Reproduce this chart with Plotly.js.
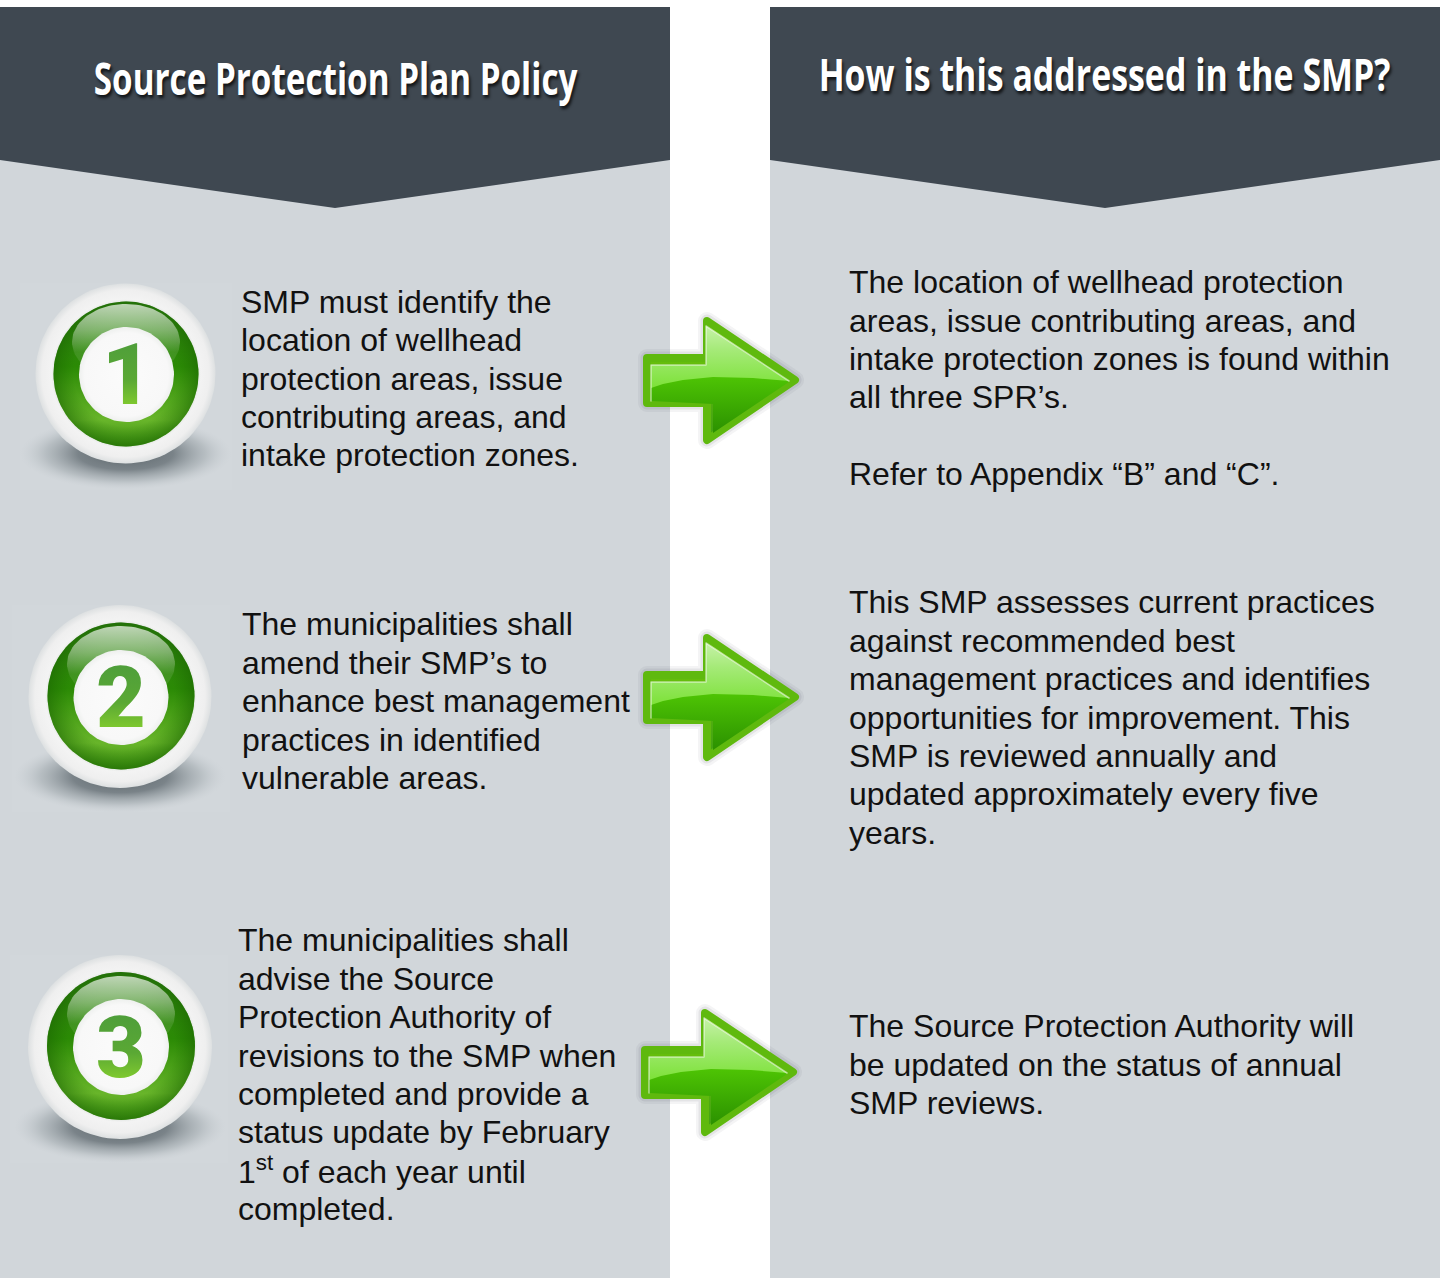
<!DOCTYPE html>
<html><head><meta charset="utf-8">
<script src="https://cdn.plot.ly/plotly-3.0.1.min.js"></script>
<style>html,body{margin:0;padding:0;background:#fff}#c{width:1440px;height:1278px}
#c .scatterlayer path.js-line{stroke-linejoin:round !important;stroke-linecap:round !important}</style>
</head><body><div id="c"></div>
<script>
// ---------- content ----------
const headings = ["Source Protection Plan Policy", "How is this addressed in the SMP?"];
const badgeDigits = ["1", "2", "3"];
const leftText1 = ["SMP must identify the","location of wellhead","protection areas, issue","contributing areas, and","intake protection zones."];
const leftText2 = ["The municipalities shall","amend their SMP’s to","enhance best management","practices in identified","vulnerable areas."];
const leftText3 = ["The municipalities shall","advise the Source","Protection Authority of","revisions to the SMP when","completed and provide a","status update by February","1<sup>st</sup> of each year until","completed."];
const rightText1 = ["The location of wellhead protection","areas, issue contributing areas, and","intake protection zones is found within","all three SPR’s.","","Refer to Appendix “B” and “C”."];
const rightText2 = ["This SMP assesses current practices","against recommended best","management practices and identifies","opportunities for improvement. This","SMP is reviewed annually and","updated approximately every five","years."];
const rightText3 = ["The Source Protection Authority will","be updated on the status of annual","SMP reviews."];

// ---------- placement ----------
const headingX = [335, 1104], headingY = [77, 73], headingWidth = [484, 572];
const panelLeft = [0, 770], panelWidth = 670, panelTop = 7, chevronY = 160, apexY = 208;
const leftBlockX = [240, 241, 237], leftBlockY = [301.8, 624.3, 940.3];
const rightBlockX = [848, 848, 848], rightBlockY = [282.2, 602.4, 1026.3];
const lineStep = 38.4;
const badgeCX = [125.5, 120, 120], badgeCY = [373.5, 696.5, 1047], badgeR = [90, 91.5, 92];
const ringCX = [126, 121, 121], ringCY = [374, 696, 1046], ringR = [72.5, 73.5, 74];
const coreCX = [126.5, 121, 121], coreCY = [374.5, 697.5, 1047], coreR = [47.5, 47.5, 48];
const glowX0 = [20, 12, 10], glowX1 = [232, 230, 228], glowY0 = [283, 605, 955], glowY1 = [490, 812, 1163];
const arrowLeft = [643, 643, 641], arrowTipY = [380, 697, 1072];
const arrowOuterDX = [4,64,64,152,64,64,4], arrowOuterDY = [-22,-22,-59,0,60,23,23];
const arrowInnerDX = [8,63,63,146,70,70,8], arrowInnerDY = [-15,-15,-54,2,53,24,21];
const arrowGlossDX = [8,63,63,146,110,70,40,20,8], arrowGlossDY = [-15,-15,-54,1,-2,-3,0,4,8];

const colDark = "#3f4851", colLight = "#d1d6da", colText = "#111111";
const bodyFont = "Liberation Sans, Arial, sans-serif";
const headFont = "Open Sans, Liberation Sans, sans-serif";
const digitFont = "Roboto, Liberation Sans, sans-serif";

// ---------- helpers ----------
const traces = [];
function poly(xs, ys, o) {
  const t = {type:"scatter", mode:"lines", x:xs.concat(xs[0]), y:ys.concat(ys[0]), fill:"toself",
    hoverinfo:"skip", showlegend:false, line:o.line || {width:0}};
  if (o.color) t.fillcolor = o.color;
  if (o.grad) t.fillgradient = o.grad;
  traces.push(t);
}
function ellipse(cx, cy, rx, ry) {
  const xs = [], ys = [];
  for (let i = 0; i < 96; i++) { const a = i / 96 * 2 * Math.PI; xs.push(cx + rx * Math.cos(a)); ys.push(cy + ry * Math.sin(a)); }
  return [xs, ys];
}
function vgrad(y0, y1, cs) { return {type:"vertical", start:y0, stop:y1, colorscale:cs}; }
function rgrad(cs) { return {type:"radial", colorscale:cs}; }

// ---------- badges ----------
badgeDigits.forEach((d, i) => {
  const cx = badgeCX[i], cy = badgeCY[i], R = badgeR[i], rc = ringCX[i], rr = ringR[i], ry = ringCY[i];
  const cc = coreCX[i], cyc = coreCY[i], cr = coreR[i];
  poly([glowX0[i],glowX1[i],glowX1[i],glowX0[i]], [glowY0[i],glowY0[i],glowY1[i],glowY1[i]], {color:"rgba(255,255,255,0.04)"});
  let e = ellipse(cx, cy + 80, 106, 36);
  poly(e[0], e[1], {grad:rgrad([[0,"rgba(85,95,100,0.95)"],[0.45,"rgba(100,110,116,0.8)"],[0.75,"rgba(140,150,155,0.4)"],[1,"rgba(190,197,202,0)"]])});
  e = ellipse(cx, cy, R, R);
  poly(e[0], e[1], {grad:rgrad([[0,"#ffffff"],[0.8,"#f4f4f4"],[0.93,"#efefef"],[1,"#dde0e1"]])});
  e = ellipse(rc, ry, rr + 2.5, rr + 2.5);
  poly(e[0], e[1], {grad:rgrad([[0,"rgba(150,170,150,0.9)"],[0.9,"rgba(150,170,150,0.9)"],[1,"rgba(220,225,222,0)"]])});
  e = ellipse(rc, ry, rr, rr);
  poly(e[0], e[1], {grad:vgrad(ry - rr, ry + rr, [[0,"#2f7f12"],[0.45,"#2b8a05"],[0.82,"#68b52a"],[1,"#3f9212"]])});
  poly(e[0], e[1], {grad:rgrad([[0,"rgba(30,110,0,0)"],[0.72,"rgba(30,110,0,0)"],[1,"rgba(25,100,0,0.55)"]])});
  e = ellipse(rc, ry - 32, 54, 38);
  poly(e[0], e[1], {grad:vgrad(ry - 70, ry - 22, [[0,"rgba(255,255,255,0.7)"],[0.55,"rgba(255,255,255,0.4)"],[1,"rgba(255,255,255,0.1)"]])});
  e = ellipse(cc, cyc, cr, cr);
  poly(e[0], e[1], {grad:rgrad([[0,"#fbfbfb"],[0.88,"#f8f8f8"],[1,"#eef0ee"]])});
});

// ---------- arrows ----------
arrowLeft.forEach((ax, i) => {
  const ty = arrowTipY[i];
  const px = a => a.map(v => ax + v), py = a => a.map(v => ty + v);
  const ox = px(arrowOuterDX), oy = py(arrowOuterDY);
  poly(ox, oy, {color:"rgba(70,70,90,0.05)", line:{color:"rgba(70,70,90,0.06)", width:18}});
  poly(ox, oy, {color:"rgba(70,70,90,0.08)", line:{color:"rgba(70,70,90,0.09)", width:13}});
  poly(ox, oy, {grad:vgrad(ty - 60, ty + 62, [[0,"#7ed00a"],[0.45,"#5db80c"],[1,"#3f9e15"]]), line:{color:"#5fb90e", width:8}});
  poly(px(arrowInnerDX), py(arrowInnerDY), {grad:vgrad(ty - 2, ty + 53, [[0,"#4dc304"],[1,"#2b9100"]])});
  poly(px(arrowGlossDX), py(arrowGlossDY), {grad:vgrad(ty - 54, ty + 6, [[0,"#c6f2a8"],[0.4,"#a5ea78"],[1,"#7fe23c"]])});
  traces.push({type:"scatter", mode:"lines", hoverinfo:"skip", showlegend:false,
    x:px([8,8,63,63,146]), y:py([21,-15,-15,-54,1]), line:{color:"rgba(255,255,255,0.55)", width:1.5}});
});

// ---------- panels ----------
const shapes = [];
panelLeft.forEach(x0 => {
  const x1 = x0 + panelWidth, mid = x0 + panelWidth / 2;
  shapes.push({type:"rect", layer:"below", xref:"x", yref:"y", x0:x0, x1:x1, y0:panelTop, y1:1278, line:{width:0}, fillcolor:colLight});
  shapes.push({type:"path", layer:"below", xref:"x", yref:"y", line:{width:0}, fillcolor:colDark,
    path:`M${x0},${panelTop} L${x1},${panelTop} L${x1},${chevronY} L${mid},${apexY} L${x0},${chevronY} Z`});
});

// ---------- text ----------
const annotations = [];
function addLines(lines, x, y0) {
  lines.forEach((t, i) => {
    if (!t) return;
    annotations.push({xref:"x", yref:"y", x:x, y:y0 + i * lineStep, text:t, showarrow:false, xanchor:"left", yanchor:"middle",
      align:"left", borderpad:0, yshift:t.indexOf("<sup>") >= 0 ? 1 : 0, font:{family:bodyFont, size:32, color:colText}});
  });
}
[leftText1, leftText2, leftText3].forEach((l, i) => addLines(l, leftBlockX[i], leftBlockY[i]));
[rightText1, rightText2, rightText3].forEach((l, i) => addLines(l, rightBlockX[i], rightBlockY[i]));
headings.forEach((t, i) => annotations.push({xref:"x", yref:"y", x:headingX[i], y:headingY[i], text:t, showarrow:false,
  xanchor:"center", yanchor:"middle", font:{family:headFont, size:45, weight:700, color:"#ffffff", shadow:"2px 3px 3px rgba(0,0,0,0.7)"}}));
badgeDigits.forEach((d, i) => annotations.push({xref:"x", yref:"y", x:coreCX[i], y:coreCY[i], text:d, showarrow:false,
  xanchor:"center", yanchor:"middle", font:{family:digitFont, size:86, weight:900, color:"#62ae30"}}));

const layout = {width:1440, height:1278, margin:{l:0,r:0,t:0,b:0,pad:0}, paper_bgcolor:"#ffffff", plot_bgcolor:"#ffffff", showlegend:false,
  xaxis:{range:[0,1440], visible:false, fixedrange:true}, yaxis:{range:[1278,0], visible:false, fixedrange:true},
  shapes:shapes, annotations:annotations};
Plotly.newPlot("c", traces, layout, {displayModeBar:false, staticPlot:true}).then(gd => {
  const svg = gd.querySelector("svg.main-svg");
  const ns = "http://www.w3.org/2000/svg";
  const defs = svg.querySelector("defs");
  const lg = document.createElementNS(ns, "linearGradient");
  lg.setAttribute("id", "digitGrad"); lg.setAttribute("x1","0"); lg.setAttribute("y1","0"); lg.setAttribute("x2","0"); lg.setAttribute("y2","1");
  [["0.2","#4f9f3a"],["0.55","#5aa834"],["0.85","#86cf2e"]].forEach(s => {
    const st = document.createElementNS(ns, "stop"); st.setAttribute("offset", s[0]); st.setAttribute("stop-color", s[1]); lg.appendChild(st);
  });
  defs.appendChild(lg);
  gd.querySelectorAll(".annotation-text").forEach(el => {
    const h = headings.indexOf(el.textContent);
    if (h >= 0) {
      // headings are a condensed bold in the reference: narrow the real text to its measured width
      const b = el.getBBox(), c = b.x + b.width / 2;
      el.setAttribute("transform", `translate(${c},0) scale(${headingWidth[h] / b.width},1) translate(${-c},0)`);
    }
    if (badgeDigits.indexOf(el.textContent) >= 0) el.style.fill = "url(#digitGrad)";
  });
});
</script></body></html>
